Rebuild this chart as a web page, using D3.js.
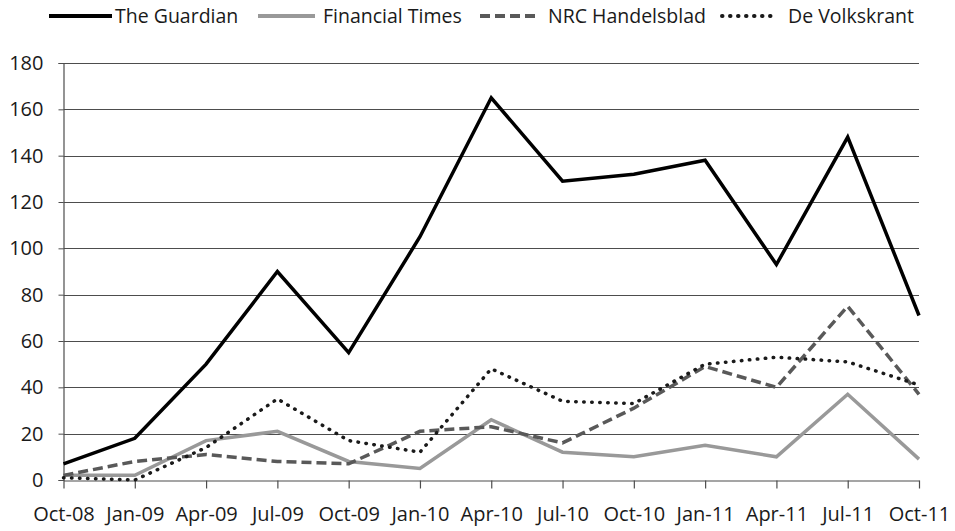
<!DOCTYPE html>
<html>
<head>
<meta charset="utf-8">
<script src="https://cdn.jsdelivr.net/npm/d3@7"></script>
<style>
  html, body { margin: 0; padding: 0; background: #fff; }
  svg { display: block; }
  text { font-family: "Open Sans", sans-serif; fill: #1a1a1a; }
</style>
</head>
<body>
<svg id="chart" width="955" height="531"></svg>
<script>
const categories = ["Oct-08","Jan-09","Apr-09","Jul-09","Oct-09","Jan-10","Apr-10","Jul-10","Oct-10","Jan-11","Apr-11","Jul-11","Oct-11"];
const guardian   = [7, 18, 50, 90, 55, 105, 165, 129, 132, 138, 93, 148, 71];
const ft         = [2, 2, 17, 21, 8, 5, 26, 12, 10, 15, 10, 37, 9];
const nrc        = [2, 8, 11, 8, 7, 21, 23, 16, 31, 49, 40, 75, 37];
const volkskrant = [1, 0, 14, 35, 17, 12, 48, 34, 33, 50, 53, 51, 41];
const yTicks     = [0, 20, 40, 60, 80, 100, 120, 140, 160, 180];
const seriesNames = ["The Guardian", "Financial Times", "NRC Handelsblad", "De Volkskrant"];

const series = [
  {name: seriesNames[0], values: guardian,   color: "#000000", width: 3.5, dash: null,      cap: "butt"},
  {name: seriesNames[1], values: ft,         color: "#999999", width: 3.5, dash: null,      cap: "butt"},
  {name: seriesNames[2], values: nrc,        color: "#595959", width: 3.5, dash: "10,5",    cap: "butt"},
  {name: seriesNames[3], values: volkskrant, color: "#1a1a1a", width: 3.5, dash: "0.5,7.5", cap: "round"}
];

const svg = d3.select("#chart");
const x = d3.scalePoint().domain(categories).range([63.5, 919]);
const y = d3.scaleLinear().domain([0, 180]).range([480, 63]);

// gridlines
svg.append("g").selectAll("line").data(yTicks.filter(d => d > 0)).join("line")
  .attr("x1", 63.5).attr("x2", 919)
  .attr("y1", d => Math.round(y(d)) + 0.5).attr("y2", d => Math.round(y(d)) + 0.5)
  .attr("stroke", "#4d4d4d").attr("stroke-width", 1);

// y axis
const yAxis = d3.axisLeft(y).tickValues(yTicks).tickSize(5).tickPadding(15);
const gy = svg.append("g").attr("transform", "translate(63.5,0)").call(yAxis);
gy.select(".domain").attr("stroke", "#4d4d4d").attr("stroke-width", 1.2);
gy.selectAll(".tick line").attr("stroke", "#4d4d4d");
gy.selectAll(".tick text").attr("font-size", 20).attr("font-family", "Open Sans, sans-serif").attr("fill", "#1a1a1a");

// x axis
const xAxis = d3.axisBottom(x).tickSize(8).tickSizeOuter(0).tickPadding(18);
const gx = svg.append("g").attr("transform", "translate(0,480.5)").call(xAxis);
gx.select(".domain").attr("stroke", "#4d4d4d").attr("stroke-width", 1.2);
gx.selectAll(".tick line").attr("stroke", "#4d4d4d").attr("stroke-width", 1.2);
gx.selectAll(".tick text").attr("font-size", 20).attr("font-family", "Open Sans, sans-serif").attr("fill", "#1a1a1a");

// lines
const line = d3.line().x((d, i) => x(categories[i])).y(d => y(d));
svg.append("g").selectAll("path").data(series).join("path")
  .attr("d", s => line(s.values))
  .attr("fill", "none")
  .attr("stroke", s => s.color)
  .attr("stroke-width", s => s.width)
  .attr("stroke-dasharray", s => s.dash)
  .attr("stroke-linecap", s => s.cap)
  .attr("stroke-linejoin", "miter");

// legend
const legendPos = [{x1: 49, x2: 112, tx: 115}, {x1: 258, x2: 315, tx: 323}, {x1: 480, x2: 538, tx: 548}, {x1: 722, x2: 777, tx: 788}];
const lg = svg.append("g").selectAll("g").data(series).join("g");
lg.append("line")
  .attr("x1", (s, i) => legendPos[i].x1).attr("x2", (s, i) => legendPos[i].x2)
  .attr("y1", 16).attr("y2", 16)
  .attr("stroke", s => s.color).attr("stroke-width", 4)
  .attr("stroke-dasharray", s => s.dash)
  .attr("stroke-linecap", s => s.cap);
lg.append("text")
  .attr("x", (s, i) => legendPos[i].tx)
  .attr("y", 16).attr("dy", "0.35em")
  .attr("font-size", 19.5)
  .text(s => s.name);
</script>
</body>
</html>
